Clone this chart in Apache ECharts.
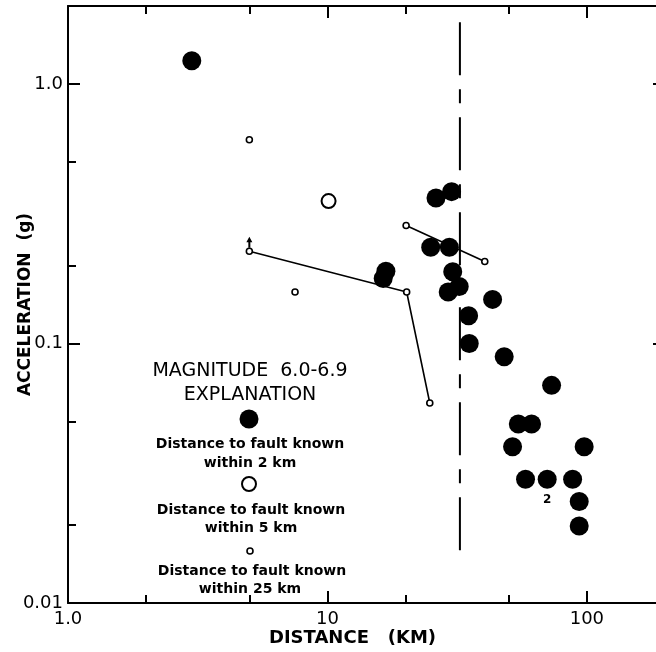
<!DOCTYPE html>
<html>
<head>
<meta charset="utf-8">
<script src="https://cdn.jsdelivr.net/npm/echarts@6/dist/echarts.min.js"></script>
<style>
  html, body { margin: 0; padding: 0; background: #fff; }
  #chart { width: 656px; height: 652px; }
</style>
</head>
<body>
<div id="chart"></div>
<script>
// distance to fault known within 2 km (filled circles)
const filledDist = [3.0, 26.2, 30.1, 25.0, 29.5, 30.4, 32.2, 29.2, 43.3, 35.0, 35.2, 16.8, 16.4, 48.0, 73.1, 54.4, 61.2, 51.7, 97.6, 58.0, 70.3, 88.1, 93.4, 93.4]
const filledAcc = [1.23, 0.364, 0.385, 0.235, 0.235, 0.189, 0.166, 0.158, 0.148, 0.128, 0.100, 0.19, 0.178, 0.089, 0.069, 0.049, 0.049, 0.040, 0.040, 0.030, 0.030, 0.030, 0.0246, 0.0198]
const filledCount = [1, 1, 1, 1, 1, 1, 1, 1, 1, 1, 1, 1, 1, 1, 1, 1, 1, 1, 1, 1, 2, 1, 1, 1]

// within 5 km (medium open circles)
const mediumDist = [10.1]
const mediumAcc = [0.354]

// within 25 km (small open circles)
const smallDist = [5.0, 5.0, 7.5, 20.2, 24.8, 20.1, 40.4]
const smallAcc = [0.61, 0.227, 0.158, 0.158, 0.059, 0.285, 0.207]

// lower-bound arrow
const arrowDist = [5.0]
const arrowAcc = [0.227]

// connected readings
const lineADist = [5.0, 20.2, 24.8]
const lineAAcc = [0.227, 0.158, 0.059]
const lineBDist = [20.1, 40.4]
const lineBAcc = [0.285, 0.207]

// dashed fault line
const faultDist = [32.4, 32.4]
const faultAcc = [1.73, 0.0156]

// axes
const xRange = [1, 200]
const yRange = [0.01, 2]
const xMajor = [1, 10, 100]
const xMajorLabels = ['1.0', '10', '100']
const xMinor = [2, 5, 20, 50]
const yMajor = [0.01, 0.1, 1]
const yMajorLabels = ['0.01', '0.1', '1.0']
const yMinor = [0.02, 0.05, 0.2, 0.5]

const L = Math.log10
const FONT = '"DejaVu Sans", sans-serif'
const pts = (xs, ys) => xs.map((x, i) => [L(x), L(ys[i])])
const labelFor = (vals, labels) => v => {
  const i = vals.findIndex(t => Math.abs(L(t) - v) < 1e-6)
  return i >= 0 ? labels[i] : ''
}

function axis(kind, pos, major, opts) {
  const range = kind === 'x' ? xRange : yRange
  const vals = opts.vals.map(L)
  return Object.assign({
    type: 'value',
    position: pos,
    min: L(range[0]),
    max: L(range[1]),
    axisLine: { show: opts.line, onZero: false, lineStyle: { color: '#000', width: 2 } },
    axisTick: { show: true, inside: true, length: major ? 12 : 8, customValues: vals, lineStyle: { color: '#000', width: 2 } },
    axisLabel: { show: false },
    splitLine: { show: false }
  }, opts.extra || {})
}

const chart = echarts.init(document.getElementById('chart'), null, { renderer: 'canvas' })

const option = {
  backgroundColor: '#fff',
  animation: false,
  grid: { left: 68, top: 6, width: 597, height: 597, containLabel: false, outerBoundsMode: 'none' },
  xAxis: [
    axis('x', 'bottom', true, {
      vals: xMajor, line: true, extra: {
        axisLabel: { show: true, customValues: xMajor.map(L), formatter: labelFor(xMajor, xMajorLabels), color: '#000', fontFamily: FONT, fontSize: 18, margin: 7 },
        name: 'DISTANCE   (KM)', nameLocation: 'middle', nameGap: 26, nameMoveOverlap: false,
        nameTextStyle: { color: '#000', fontFamily: FONT, fontSize: 18, fontWeight: 'bold', padding: [0, 28, 0, 0] }
      }
    }),
    axis('x', 'bottom', false, { vals: xMinor, line: false }),
    axis('x', 'top', true, { vals: xMajor, line: true }),
    axis('x', 'top', false, { vals: xMinor, line: false })
  ],
  yAxis: [
    axis('y', 'left', true, {
      vals: yMajor, line: true, extra: {
        axisLabel: { show: true, customValues: yMajor.map(L), formatter: labelFor(yMajor, yMajorLabels), color: '#000', fontFamily: FONT, fontSize: 18, margin: 5 },
        name: 'ACCELERATION  (g)', nameLocation: 'middle', nameGap: 34, nameRotate: 90, nameMoveOverlap: false,
        nameTextStyle: { color: '#000', fontFamily: FONT, fontSize: 17, fontWeight: 'bold' }
      }
    }),
    axis('y', 'left', false, { vals: yMinor, line: false }),
    axis('y', 'right', true, { vals: yMajor, line: true }),
    axis('y', 'right', false, { vals: yMinor, line: false })
  ],
  series: [
    {
      type: 'line', name: 'fault', data: pts(faultDist, faultAcc), symbol: 'none', z: 1,
      lineStyle: { color: '#000', width: 2, type: [53, 14, 14, 14] }
    },
    {
      type: 'line', name: 'lineA', data: pts(lineADist, lineAAcc), symbol: 'none', z: 1,
      lineStyle: { color: '#000', width: 1.6 }
    },
    {
      type: 'line', name: 'lineB', data: pts(lineBDist, lineBAcc), symbol: 'none', z: 1,
      lineStyle: { color: '#000', width: 1.6 }
    },
    {
      type: 'scatter', name: 'within 2 km', symbolSize: 19, z: 3,
      itemStyle: { color: '#000', opacity: 1 },
      data: filledDist.map((d, i) => ({
        value: [L(d), L(filledAcc[i])],
        label: filledCount[i] > 1 ? {
          show: true, position: 'bottom', distance: 5, formatter: String(filledCount[i]),
          color: '#000', fontFamily: FONT, fontWeight: 'bold', fontSize: 12
        } : { show: false }
      }))
    },
    {
      type: 'scatter', name: 'within 5 km', symbol: 'circle', symbolSize: 14, z: 3,
      itemStyle: { color: '#fff', borderColor: '#000', borderWidth: 2, opacity: 1 },
      data: pts(mediumDist, mediumAcc)
    },
    {
      type: 'scatter', name: 'within 25 km', symbol: 'circle', symbolSize: 6, z: 3,
      itemStyle: { color: '#fff', borderColor: '#000', borderWidth: 1.6, opacity: 1 },
      data: pts(smallDist, smallAcc)
    },
    {
      type: 'scatter', name: 'arrow', z: 3,
      symbol: 'path://M0,0 L3,6 L1,6 L1,12 L-1,12 L-1,6 L-3,6 Z',
      symbolSize: [6, 11], symbolOffset: [0, -9], symbolKeepAspect: false,
      itemStyle: { color: '#000', opacity: 1 },
      data: pts(arrowDist, arrowAcc)
    }
  ],
  graphic: [
    { type: 'text', x: 250, y: 371, style: { text: 'MAGNITUDE  6.0-6.9', font: '19px ' + FONT, fill: '#000', textAlign: 'center', textVerticalAlign: 'middle', align: 'center', verticalAlign: 'middle' } },
    { type: 'text', x: 250, y: 395, style: { text: 'EXPLANATION', font: '19px ' + FONT, fill: '#000', textAlign: 'center', textVerticalAlign: 'middle', align: 'center', verticalAlign: 'middle' } },
    { type: 'circle', shape: { cx: 249, cy: 419, r: 9.5 }, style: { fill: '#000' } },
    { type: 'text', x: 250, y: 444, style: { text: 'Distance to fault known', font: 'bold 14px ' + FONT, fill: '#000', textAlign: 'center', textVerticalAlign: 'middle', align: 'center', verticalAlign: 'middle' } },
    { type: 'text', x: 250, y: 463, style: { text: 'within 2 km', font: 'bold 14px ' + FONT, fill: '#000', textAlign: 'center', textVerticalAlign: 'middle', align: 'center', verticalAlign: 'middle' } },
    { type: 'circle', shape: { cx: 249, cy: 484, r: 7 }, style: { fill: '#fff', stroke: '#000', lineWidth: 2 } },
    { type: 'text', x: 251, y: 510, style: { text: 'Distance to fault known', font: 'bold 14px ' + FONT, fill: '#000', textAlign: 'center', textVerticalAlign: 'middle', align: 'center', verticalAlign: 'middle' } },
    { type: 'text', x: 251, y: 528, style: { text: 'within 5 km', font: 'bold 14px ' + FONT, fill: '#000', textAlign: 'center', textVerticalAlign: 'middle', align: 'center', verticalAlign: 'middle' } },
    { type: 'circle', shape: { cx: 250, cy: 551, r: 3 }, style: { fill: '#fff', stroke: '#000', lineWidth: 1.6 } },
    { type: 'text', x: 252, y: 571, style: { text: 'Distance to fault known', font: 'bold 14px ' + FONT, fill: '#000', textAlign: 'center', textVerticalAlign: 'middle', align: 'center', verticalAlign: 'middle' } },
    { type: 'text', x: 250, y: 589, style: { text: 'within 25 km', font: 'bold 14px ' + FONT, fill: '#000', textAlign: 'center', textVerticalAlign: 'middle', align: 'center', verticalAlign: 'middle' } }
  ]
}

chart.setOption(option)
</script>
</body>
</html>
